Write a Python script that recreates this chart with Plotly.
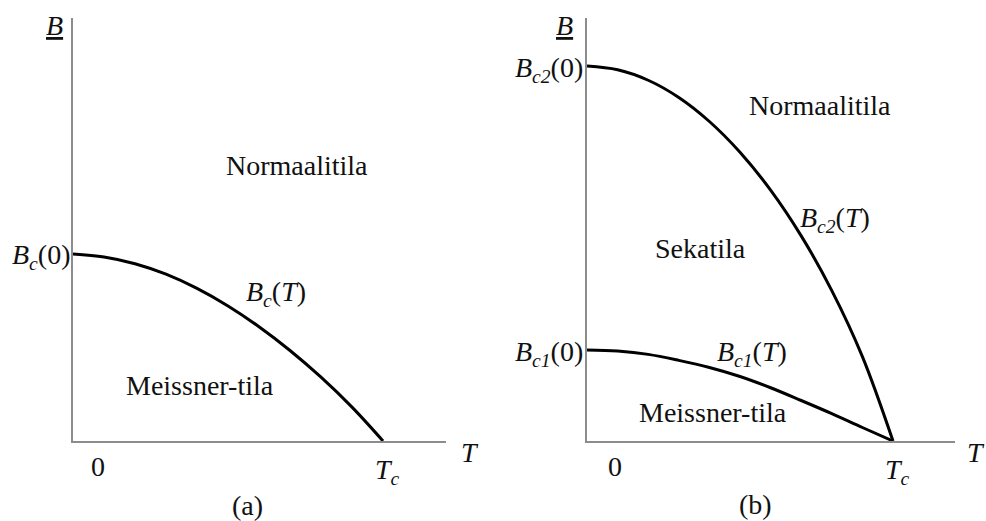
import plotly.graph_objects as go

W, H = 986, 521

# Reduced temperature T/Tc
T = [0.0, 0.1, 0.2, 0.3, 0.4, 0.5, 0.6, 0.7, 0.8, 0.9, 1.0]

# (a) type I superconductor: critical field Bc(T) / Bc(0)
Bc = [1.0, 0.984, 0.948, 0.892, 0.816, 0.722, 0.611, 0.484, 0.341, 0.181, 0.0]

# (b) type II superconductor: Bc2(T) and Bc1(T) in units of Bc2(0)
Bc2 = [1.0, 0.99, 0.962, 0.916, 0.852, 0.770, 0.669, 0.547, 0.401, 0.225, 0.0]
Bc1 = [0.243, 0.240, 0.231, 0.215, 0.196, 0.172, 0.142, 0.108, 0.073, 0.036, 0.0]

FONT = "Liberation Serif"
TXT = "#111111"
AXC = "#8c8c8c"


def px(x):
    return x / W


def py(y):
    return 1 - y / H


fig = go.Figure()

curve = dict(color="black", width=3, shape="spline", smoothing=1.0)
fig.add_trace(go.Scatter(x=T, y=Bc, mode="lines", line=curve, xaxis="x", yaxis="y", hoverinfo="skip"))
fig.add_trace(go.Scatter(x=T, y=Bc2, mode="lines", line=curve, xaxis="x2", yaxis="y2", hoverinfo="skip"))
fig.add_trace(go.Scatter(x=T, y=Bc1, mode="lines", line=curve, xaxis="x2", yaxis="y2", hoverinfo="skip"))

ax_common = dict(showgrid=False, zeroline=False, showticklabels=False, ticks="",
                 showline=True, linecolor=AXC, linewidth=2, fixedrange=True)

# panel (a): origin at (73, 441), Tc at x=383, Bc(0) at y=254
# panel (b): origin at (587, 441), Tc at x=893, Bc2(0) at y=66
fig.update_layout(
    xaxis=dict(domain=[px(73), px(446)], range=[0, (446 - 73) / (383 - 73)], anchor="y", **ax_common),
    yaxis=dict(domain=[py(441), py(18)], range=[0, (441 - 18) / (441 - 254)], anchor="x", **ax_common),
    xaxis2=dict(domain=[px(587), px(955)], range=[0, (955 - 587) / (893 - 587)], anchor="y2", **ax_common),
    yaxis2=dict(domain=[py(441), py(18)], range=[0, (441 - 18) / (441 - 66)], anchor="x2", **ax_common),
)

labels = [
    # panel (a)
    ("<u><i>B</i></u>", 54, 25, "center"),
    ("<i>B<sub>c</sub></i>(0)", 71, 257, "right"),
    ("Normaalitila", 297, 165, "center"),
    ("<i>B<sub>c</sub></i>(<i>T</i>)", 276, 293, "center"),
    ("Meissner-tila", 200, 385, "center"),
    ("0", 98, 466, "center"),
    ("<i>T<sub>c</sub></i>", 387, 471, "center"),
    ("<i>T</i>", 470, 452, "center"),
    ("(a)", 247, 505, "center"),
    # panel (b)
    ("<u><i>B</i></u>", 564, 25, "center"),
    ("<i>B<sub>c2</sub></i>(0)", 584, 69, "right"),
    ("Normaalitila", 820, 106, "center"),
    ("<i>B<sub>c2</sub></i>(<i>T</i>)", 835, 220, "center"),
    ("Sekatila", 700, 248, "center"),
    ("<i>B<sub>c1</sub></i>(<i>T</i>)", 752, 353, "center"),
    ("<i>B<sub>c1</sub></i>(0)", 584, 353, "right"),
    ("Meissner-tila", 713, 412, "center"),
    ("0", 615, 466, "center"),
    ("<i>T<sub>c</sub></i>", 897, 471, "center"),
    ("<i>T</i>", 976, 452, "center"),
    ("(b)", 755, 504, "center"),
]

for text, x, y, anchor in labels:
    fig.add_annotation(text=text, x=px(x), y=py(y), xref="paper", yref="paper",
                       xanchor=anchor, yanchor="middle", showarrow=False, borderpad=0,
                       font=dict(family=FONT, size=28, color=TXT))

fig.update_layout(
    width=W, height=H, margin=dict(l=0, r=0, t=0, b=0),
    paper_bgcolor="white", plot_bgcolor="white", showlegend=False,
)

fig.write_html("out.html", config={"displayModeBar": False})
